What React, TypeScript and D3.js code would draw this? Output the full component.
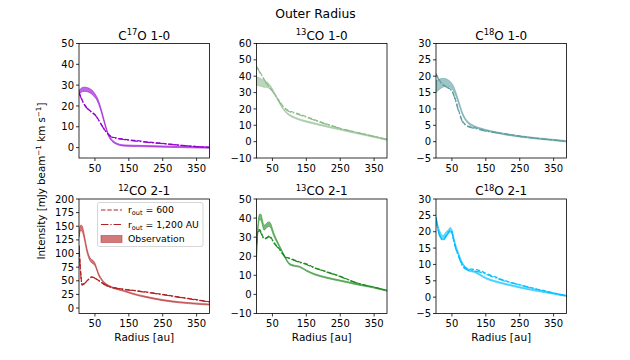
import React from "react";
import * as d3 from "d3";

const R = [3, 8, 12, 16, 20, 25, 30, 35, 40, 45, 50, 55, 60, 70, 80, 90, 100, 115, 130, 150, 175, 200, 250, 300, 350, 388];

// C17O 1-0
const c17Obs = [26.5, 27.3, 27.8, 28, 28, 27.9, 27.7, 27.3, 26.8, 26, 25, 23.8, 22, 17, 11, 6, 3.5, 1.8, 1.1, 0.9, 0.8, 0.7, 0.5, 0.3, 0.1, 0];
const c17Err = [1, 1, 1, 1, 1, 1, 1, 1, 1, 1, 0.9, 0.8, 0.8, 0.7, 0.6, 0.5, 0.4, 0.3, 0.3, 0.3, 0.3, 0.3, 0.3, 0.3, 0.3, 0.3];
const c17M600 = [26.5, 24.5, 23, 21.5, 20.5, 19.3, 18.5, 17.8, 17, 16.5, 15.8, 14.8, 13.5, 10.8, 8.2, 6.3, 5.2, 4.6, 4.2, 3.7, 3.3, 2.8, 2, 1.2, 0.5, 0.1];
const c17M1200 = [26.3, 24.3, 22.8, 21.4, 20.3, 19.2, 18.4, 17.7, 16.9, 16.4, 15.7, 14.7, 13.4, 10.7, 8.1, 6.2, 5.0, 4.4, 4.0, 3.5, 3.1, 2.6, 1.9, 1.1, 0.5, 0.1];

// 13CO 1-0
const co13aObs = [37, 36.8, 36.5, 36.2, 35.8, 35.3, 35, 34.7, 34, 33, 31.5, 29.8, 28, 24, 20.5, 18, 16.3, 14.7, 13.5, 12.3, 11, 9.8, 7.5, 5.2, 3, 1.2];
const co13aErr = [2.5, 2.5, 2.4, 2.3, 2.2, 2, 1.8, 1.6, 1.4, 1.1, 0.8, 0.6, 0.5, 0.4, 0.4, 0.4, 0.4, 0.4, 0.4, 0.4, 0.4, 0.4, 0.4, 0.4, 0.4, 0.4];
const co13aM600 = [46, 44.5, 43, 41.5, 40, 38.3, 36.5, 35, 33.5, 32.2, 31, 29.5, 28, 25, 22, 20, 18.8, 17.8, 16.8, 15.3, 13.3, 11.5, 8.2, 5.6, 3.2, 1.3];
const co13aM1200 = [45.5, 44, 42.6, 41.2, 39.8, 38.1, 36.4, 34.9, 33.4, 32.1, 30.8, 29.3, 27.7, 24.6, 21.6, 19.6, 18.3, 17.3, 16.3, 14.9, 13, 11.2, 8, 5.5, 3.1, 1.3];

// C18O 1-0
const c18aObs = [16.8, 17.2, 17.5, 17.7, 17.9, 18, 18.1, 18, 17.8, 17.5, 17, 16.2, 15, 12, 8.8, 6.8, 5.6, 4.7, 4.1, 3.5, 2.9, 2.4, 1.6, 1, 0.5, 0.1];
const c18aErr = [1.8, 1.7, 1.6, 1.5, 1.4, 1.3, 1.2, 1.1, 1, 0.9, 0.8, 0.7, 0.6, 0.5, 0.4, 0.3, 0.3, 0.2, 0.2, 0.2, 0.2, 0.2, 0.2, 0.2, 0.2, 0.2];
const c18aM600 = [20.8, 19.8, 19, 18.3, 17.8, 17.3, 17, 16.7, 16.4, 16.1, 15.6, 14.5, 13, 9.5, 6.5, 5.2, 4.7, 4.3, 3.9, 3.4, 2.9, 2.5, 1.7, 1.0, 0.5, 0.1];
const c18aM1200 = [20.6, 19.6, 18.8, 18.2, 17.7, 17.2, 16.9, 16.6, 16.3, 16, 15.4, 14.3, 12.7, 9.2, 6.3, 5.0, 4.5, 4.1, 3.7, 3.2, 2.8, 2.4, 1.6, 1.0, 0.5, 0.1];

// 12CO 2-1
const co12Obs = [135, 147, 146, 138, 126, 110, 98, 90, 86, 84, 80, 72, 63, 52, 45, 41, 38, 35, 32.5, 28.5, 24, 20.5, 14.5, 10.5, 8, 6.5];
const co12Err = [5, 5, 5, 4.5, 4, 3.5, 3, 3, 3, 3, 2.5, 2, 2, 1.5, 1.2, 1, 1, 1, 1, 1, 1, 1, 1, 1, 1, 1];
const co12M600 = [115, 65, 43, 44, 46, 49, 52, 55, 57, 56.5, 55, 53, 51, 47, 43, 40, 38, 36.5, 35, 33.5, 31.5, 29.5, 25, 20, 15.3, 11.5];
const co12M1200 = [113, 63, 42, 43.5, 45.5, 48.5, 51.5, 54.5, 56.5, 56, 54.5, 52.5, 50.5, 46.5, 42.5, 39.5, 37.5, 36, 34.5, 33, 31, 29, 24.5, 19.5, 14.8, 11];

// 13CO 2-1
const co13bObs = [19, 37, 40.5, 40.5, 38, 35, 35.5, 36.5, 36.8, 36, 33.5, 31, 29, 25.5, 22, 18.5, 16, 15, 14.5, 12.5, 10.5, 9.2, 7.2, 5.3, 3.6, 2];
const co13bErr = [1.5, 1.5, 1.5, 1.5, 1.4, 1.3, 1.2, 1.2, 1.2, 1.1, 1, 0.8, 0.7, 0.5, 0.4, 0.4, 0.4, 0.3, 0.3, 0.3, 0.3, 0.3, 0.3, 0.3, 0.3, 0.3];
const co13bM600 = [27, 33.5, 34, 33, 31, 29.5, 29.5, 30, 30.5, 30, 28.5, 27, 26, 24, 21.5, 19.5, 19, 18, 17, 16, 14, 12.5, 9.5, 6, 3.8, 2];
const co13bM1200 = [26, 33, 33.3, 32.3, 30.5, 29.2, 29.2, 29.7, 30.2, 29.7, 28.2, 26.8, 25.7, 23.7, 21.2, 19.2, 18.8, 17.8, 16.8, 15.7, 13.8, 12.3, 9.3, 5.9, 3.7, 2];

// C18O 2-1
const c18bObs = [23.5, 21.5, 20, 19, 18.3, 18.2, 18.8, 19.5, 20, 20.6, 20, 18, 16, 13, 10.5, 9, 8.2, 7.8, 7, 5.8, 4.9, 4.2, 3, 2, 1.1, 0.4];
const c18bErr = [0.8, 0.8, 0.8, 0.8, 0.7, 0.7, 0.7, 0.7, 0.7, 0.7, 0.6, 0.6, 0.5, 0.4, 0.3, 0.3, 0.3, 0.2, 0.2, 0.2, 0.2, 0.2, 0.2, 0.2, 0.2, 0.2];
const c18bM600 = [24.5, 21.5, 19.5, 18.5, 17.8, 17.7, 18.3, 19.2, 19.8, 20.5, 20, 17.5, 15.5, 12.5, 10, 9, 8.7, 8.5, 8.2, 7.3, 6.3, 5.3, 3.8, 2.5, 1.3, 0.4];
const c18bM1200 = [24.3, 21.3, 19.3, 18.3, 17.6, 17.5, 18.1, 19, 19.6, 20.3, 19.8, 17.3, 15.3, 12.3, 9.7, 8.6, 8.2, 8.0, 7.7, 7.0, 6.0, 5.1, 3.7, 2.4, 1.2, 0.4];

const xTicks = [50, 150, 250, 350];
const yTicks1 = [0, 10, 20, 30, 40, 50];
const yTicks2 = [-10, 0, 10, 20, 30, 40, 50, 60];
const yTicks3 = [-5, 0, 5, 10, 15, 20, 25, 30];
const yTicks4 = [0, 25, 50, 75, 100, 125, 150, 175, 200];
const yTicks5 = [-10, 0, 10, 20, 30, 40, 50];
const yTicks6 = [-5, 0, 5, 10, 15, 20, 25, 30];

const legendLabels = ["600", "1,200 AU", "Observation"];

type Panel = {
  sup: string;
  rest: string;
  obs: number[];
  err: number[];
  m600: number[];
  m1200: number[];
  color: string;
  yDomain: [number, number];
  yTicks: number[];
  col: number;
  row: number;
  legend?: boolean;
};

const panels: Panel[] = [
  { sup: "17", rest: "O 1-0", pre: "C", obs: c17Obs, err: c17Err, m600: c17M600, m1200: c17M1200, color: "#9400D3", yDomain: [-5, 50], yTicks: yTicks1, col: 0, row: 0 } as any,
  { sup: "13", rest: "CO 1-0", pre: "", obs: co13aObs, err: co13aErr, m600: co13aM600, m1200: co13aM1200, color: "#8FBC8F", yDomain: [-10, 60], yTicks: yTicks2, col: 1, row: 0 } as any,
  { sup: "18", rest: "O 1-0", pre: "C", obs: c18aObs, err: c18aErr, m600: c18aM600, m1200: c18aM1200, color: "#5F9EA0", yDomain: [-5, 30], yTicks: yTicks3, col: 2, row: 0 } as any,
  { sup: "12", rest: "CO 2-1", pre: "", obs: co12Obs, err: co12Err, m600: co12M600, m1200: co12M1200, color: "#B22222", yDomain: [-10, 200], yTicks: yTicks4, col: 0, row: 1, legend: true } as any,
  { sup: "13", rest: "CO 2-1", pre: "", obs: co13bObs, err: co13bErr, m600: co13bM600, m1200: co13bM1200, color: "#228B22", yDomain: [-10, 50], yTicks: yTicks5, col: 1, row: 1 } as any,
  { sup: "18", rest: "O 2-1", pre: "C", obs: c18bObs, err: c18bErr, m600: c18bM600, m1200: c18bM1200, color: "#00BFFF", yDomain: [-5, 30], yTicks: yTicks6, col: 2, row: 1 } as any,
];

const colX = [79, 256.5, 436];
const rowY = [43.5, 199];
const PW = 130.5;
const PH = 114.5;
const FONT = "DejaVu Sans, sans-serif";

function PanelView({ p }: { p: any }) {
  const x0 = colX[p.col];
  const y0 = rowY[p.row];
  const x = d3.scaleLinear().domain([3, 388]).range([x0, x0 + PW]);
  const y = d3.scaleLinear().domain(p.yDomain).range([y0 + PH, y0]);
  const idx = R.map((_, i) => i);
  const area = d3
    .area<number>()
    .x((i) => x(R[i]))
    .y0((i) => y(p.obs[i] - p.err[i]))
    .y1((i) => y(p.obs[i] + p.err[i]))
    .curve(d3.curveMonotoneX);
  const line = (arr: number[]) =>
    d3
      .line<number>()
      .x((i) => x(R[i]))
      .y((i) => y(arr[i]))
      .curve(d3.curveMonotoneX)(idx) as string;
  const clipId = `clip-${p.col}-${p.row}`;
  return (
    <g>
      <clipPath id={clipId}>
        <rect x={x0} y={y0} width={PW} height={PH} />
      </clipPath>
      <g clipPath={`url(#${clipId})`}>
        <path d={area(idx) as string} fill={p.color} fillOpacity={0.6} stroke={p.color} strokeOpacity={0.6} strokeWidth={0.9} />
        <path d={line(p.m600)} fill="none" stroke={p.color} strokeWidth={1.2} strokeDasharray="4.4,1.9" />
        <path d={line(p.m1200)} fill="none" stroke={p.color} strokeWidth={1.2} strokeDasharray="7.5,1.9,1.2,1.9" />
      </g>
      <rect x={x0} y={y0} width={PW} height={PH} fill="none" stroke="#000" strokeWidth={0.8} />
      {xTicks.map((t) => (
        <g key={"x" + t}>
          <line x1={x(t)} x2={x(t)} y1={y0 + PH} y2={y0 + PH + 3} stroke="#000" strokeWidth={0.8} />
          <text x={x(t)} y={y0 + PH + 13.5} textAnchor="middle" fontSize={10} fontFamily={FONT} fill="#000">
            {t}
          </text>
        </g>
      ))}
      {p.yTicks.map((t: number) => (
        <g key={"y" + t}>
          <line x1={x0 - 3} x2={x0} y1={y(t)} y2={y(t)} stroke="#000" strokeWidth={0.8} />
          <text x={x0 - 5} y={y(t) + 3.6} textAnchor="end" fontSize={10} fontFamily={FONT} fill="#000">
            {t < 0 ? "\u2212" + Math.abs(t) : t}
          </text>
        </g>
      ))}
      <text x={x0 + PW / 2} y={y0 - 4} textAnchor="middle" fontSize={12} fontFamily={FONT} fill="#000">
        {p.pre}
        <tspan fontSize={8.4} dy={-4.5}>{p.sup}</tspan>
        <tspan dy={4.5}>{p.rest}</tspan>
      </text>
      {p.row === 1 && (
        <text x={x0 + PW / 2} y={y0 + PH + 27} textAnchor="middle" fontSize={10.5} fontFamily={FONT} fill="#000">
          Radius [au]
        </text>
      )}
      {p.legend && (
        <g fontFamily={FONT} fontSize={9.3}>
          <rect x={97.5} y={202.5} width={105.5} height={44} rx={2} fill="#fff" fillOpacity={0.8} stroke="#ccc" strokeWidth={0.8} />
          <line x1={101} x2={122} y1={210} y2={210} stroke={p.color} strokeWidth={1.2} strokeDasharray="4.4,1.9" />
          <line x1={101} x2={122} y1={224.5} y2={224.5} stroke={p.color} strokeWidth={1.2} strokeDasharray="7.5,1.9,1.2,1.9" />
          <rect x={101} y={235.5} width={21} height={7} fill={p.color} fillOpacity={0.6} stroke={p.color} strokeOpacity={0.6} strokeWidth={0.8} />
          <text x={128} y={213.3}>
            r<tspan fontSize={6.5} dy={2}>out</tspan>
            <tspan dy={-2}> = {legendLabels[0]}</tspan>
          </text>
          <text x={128} y={227.8}>
            r<tspan fontSize={6.5} dy={2}>out</tspan>
            <tspan dy={-2}> = {legendLabels[1]}</tspan>
          </text>
          <text x={128} y={242.3}>{legendLabels[2]}</text>
        </g>
      )}
    </g>
  );
}

export default function App() {
  return (
    <svg width={630} height={360} style={{ position: "absolute", left: 0, top: 0, background: "#fff" }}>
      <rect width={630} height={360} fill="#fff" />
      <text x={315.5} y={17.5} textAnchor="middle" fontSize={12.4} fontFamily={FONT} fill="#000">
        Outer Radius
      </text>
      <text
        transform="translate(45,181) rotate(-90)"
        textAnchor="middle"
        fontSize={10.3}
        fontFamily={FONT}
        fill="#000"
      >
        Intensity [mJy beam<tspan fontSize={7.2} dy={-4}>−1</tspan>
        <tspan dy={4}> km s</tspan>
        <tspan fontSize={7.2} dy={-4}>−1</tspan>
        <tspan dy={4}>]</tspan>
      </text>
      {panels.map((p, i) => (
        <PanelView key={i} p={p} />
      ))}
    </svg>
  );
}
